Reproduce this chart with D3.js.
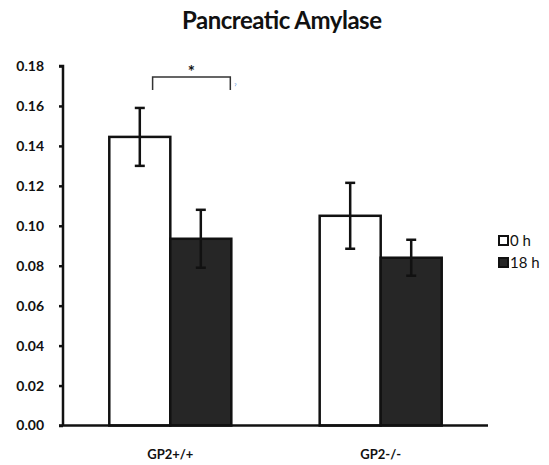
<!DOCTYPE html>
<html>
<head>
<meta charset="utf-8">
<script src="https://cdn.jsdelivr.net/npm/d3@7"></script>
<style>
  body { margin: 0; background: #fff; }
  text { font-family: Lato, "Open Sans", sans-serif; fill: #111; }
</style>
</head>
<body>
<div id="chart"></div>
<script>
var groups = ['GP2+/+', 'GP2-/-'];
var seriesNames = ['0 h', '18 h'];
var meanValues = [[0.1445, 0.0935], [0.105, 0.084]];
var errorValues = [[0.0145, 0.0145], [0.0165, 0.009]];
var yTicks = [0, 0.02, 0.04, 0.06, 0.08, 0.10, 0.12, 0.14, 0.16, 0.18];
var fills = ['#ffffff', '#262626'];

var width = 549, height = 465;
var margin = { top: 66, left: 63, bottom: 39, right: 61 };

var svg = d3.select('#chart').append('svg')
    .attr('width', width)
    .attr('height', height);

var yScale = d3.scaleLinear()
    .domain([0, 0.18])
    .range([height - margin.bottom - 0.5, margin.top]);

var xScale = d3.scaleBand()
    .domain(groups)
    .range([margin.left, width - margin.right])
    .paddingInner(0.42)
    .paddingOuter(0.22);

var xSub = d3.scaleBand()
    .domain(seriesNames)
    .range([0, xScale.bandwidth()]);

// title
svg.append('text')
    .attr('x', 282)
    .attr('y', 29)
    .attr('text-anchor', 'middle')
    .style('font-size', '24px')
    .style('font-weight', 'bold')
    .attr('textLength', 200)
    .text('Pancreatic Amylase');

// bars
var data = [];
groups.forEach(function(g, i) {
    seriesNames.forEach(function(s, j) {
        data.push({ group: g, series: s, value: meanValues[i][j], err: errorValues[i][j], idx: j });
    });
});

var bars = svg.append('g').selectAll('.bar')
    .data(data)
    .enter();

bars.append('rect')
    .attr('class', 'bar')
    .attr('x', function(d) { return xScale(d.group) + xSub(d.series); })
    .attr('y', function(d) { return yScale(d.value); })
    .attr('width', xSub.bandwidth())
    .attr('height', function(d) { return yScale(0) - yScale(d.value); })
    .attr('fill', function(d) { return fills[d.idx]; })
    .attr('stroke', '#111')
    .attr('stroke-width', 2.5);

// error bars
var errG = bars.append('g')
    .attr('stroke', '#111')
    .attr('stroke-width', 2.5);

errG.append('line')
    .attr('x1', function(d) { return xScale(d.group) + xSub(d.series) + xSub.bandwidth() / 2; })
    .attr('x2', function(d) { return xScale(d.group) + xSub(d.series) + xSub.bandwidth() / 2; })
    .attr('y1', function(d) { return yScale(d.value + d.err); })
    .attr('y2', function(d) { return yScale(d.value - d.err); });

[1, -1].forEach(function(sign) {
    errG.append('line')
        .attr('x1', function(d) { return xScale(d.group) + xSub(d.series) + xSub.bandwidth() / 2 - 5; })
        .attr('x2', function(d) { return xScale(d.group) + xSub(d.series) + xSub.bandwidth() / 2 + 5; })
        .attr('y1', function(d) { return yScale(d.value + sign * d.err); })
        .attr('y2', function(d) { return yScale(d.value + sign * d.err); });
});

// axes
var yAxis = d3.axisLeft(yScale)
    .tickValues(yTicks)
    .tickFormat(d3.format('.2f'))
    .tickSize(4)
    .tickPadding(15);

var yG = svg.append('g')
    .attr('transform', 'translate(' + margin.left + ',0)')
    .call(yAxis);
yG.select('.domain').attr('stroke', '#111').attr('stroke-width', 2.5)
    .attr('d', 'M-4,' + yScale(0.18) + 'H0V' + yScale(0));
yG.selectAll('.tick line').attr('stroke', '#111').attr('stroke-width', 2.5);
yG.selectAll('.tick text').style('font-size', '14px').style('font-family', 'Lato, sans-serif')
    .style('font-weight', 'bold').attr('fill', '#222');

var xAxis = d3.axisBottom(xScale).tickSize(0).tickPadding(24);
var xG = svg.append('g')
    .attr('transform', 'translate(0,' + yScale(0) + ')')
    .call(xAxis);
xG.select('.domain').attr('stroke', '#111').attr('stroke-width', 2.5)
    .attr('d', 'M' + (margin.left - 4) + ',0H' + (width - margin.right));
xG.selectAll('.tick text').style('font-size', '13px').style('font-family', 'Lato, sans-serif')
    .style('font-weight', 'bold').attr('fill', '#222');

// significance bracket
var bx1 = xScale(groups[0]) + xSub.bandwidth() * 0.71;
var bx2 = xScale(groups[0]) + xSub.bandwidth() * 2 - 1;
var by = yScale(0.1745);
var bBottom = yScale(0.168);
svg.append('path')
    .attr('d', 'M' + bx1 + ',' + bBottom + 'V' + by + 'H' + bx2 + 'V' + bBottom)
    .attr('fill', 'none')
    .attr('stroke', '#333')
    .attr('stroke-width', 1.5);
svg.append('text')
    .attr('x', (bx1 + bx2) / 2)
    .attr('y', by + 1)
    .attr('text-anchor', 'middle')
    .style('font-size', '17px')
    .style('font-weight', 'bold')
    .text('*');
svg.append('text')
    .attr('x', bx2 + 4)
    .attr('y', bBottom)
    .style('font-size', '8px')
    .style('fill', '#4a7fd6')
    .text('\u02C0');

// legend
var legend = svg.append('g')
    .attr('transform', 'translate(499,236)');
var item = legend.selectAll('.item')
    .data(seriesNames)
    .enter().append('g')
    .attr('transform', function(d, i) { return 'translate(0,' + i * 22 + ')'; });
item.append('rect')
    .attr('width', 9)
    .attr('height', 9)
    .attr('fill', function(d, i) { return fills[i]; })
    .attr('stroke', '#111')
    .attr('stroke-width', 2);
item.append('text')
    .attr('x', 11)
    .attr('y', 10)
    .style('font-size', '15px')
    .text(function(d) { return d; });
</script>
</body>
</html>
